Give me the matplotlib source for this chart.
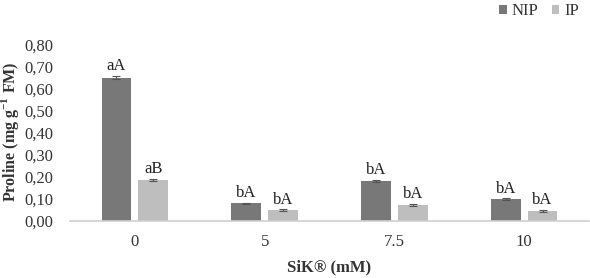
import matplotlib
matplotlib.use("Agg")
import matplotlib.pyplot as plt
import numpy as np

plt.rcParams['font.family'] = ['Liberation Serif', 'DejaVu Serif']
plt.rcParams['mathtext.fontset'] = 'custom'
plt.rcParams['mathtext.rm'] = 'Liberation Serif'
plt.rcParams['mathtext.bf'] = 'Liberation Serif:bold'

categories = ["0", "5", "7.5", "10"]
nip = [0.652, 0.080, 0.182, 0.100]
ip = [0.188, 0.050, 0.074, 0.046]
nip_err = [0.006, 0.003, 0.004, 0.003]
ip_err = [0.005, 0.003, 0.004, 0.003]
nip_labels = ["aA", "bA", "bA", "bA"]
ip_labels = ["aB", "bA", "bA", "bA"]
yticks = [0.0, 0.1, 0.2, 0.3, 0.4, 0.5, 0.6, 0.7, 0.8]

fs = 12
W, H = 590, 278
fig = plt.figure(figsize=(5.9, 2.78), dpi=100)
ax = fig.add_axes([70 / W, 1 - 221 / H, 519 / W, (221 - 45) / H])

x = np.arange(len(categories))
w = 0.23
off = 0.142
c_nip = "#787878"
c_ip = "#bebebe"
ax.bar(x - off, nip, w, color=c_nip, label="NIP", zorder=2)
ax.bar(x + off, ip, w, color=c_ip, label="IP", zorder=2)
ax.errorbar(x - off, nip, yerr=nip_err, fmt='none', ecolor="#555555", capsize=3, elinewidth=0.8, capthick=0.8, zorder=3)
ax.errorbar(x + off, ip, yerr=ip_err, fmt='none', ecolor="#555555", capsize=3, elinewidth=0.8, capthick=0.8, zorder=3)

for xi, v, e, lab in zip(x - off, nip, nip_err, nip_labels):
    ax.text(xi, v + e + 0.008, lab, ha='center', va='bottom', fontsize=fs, color="#222222")
for xi, v, e, lab in zip(x + off, ip, ip_err, ip_labels):
    ax.text(xi, v + e + 0.008, lab, ha='center', va='bottom', fontsize=fs, color="#222222")

ax.set_xlim(-0.5, 3.5)
ax.set_ylim(0, 0.8)
ax.set_yticks(yticks)
ax.set_yticklabels([f"{t:.2f}".replace('.', ',') for t in yticks], fontsize=fs, color="#333333")
ax.set_xticks(x)
ax.set_xticklabels(categories, fontsize=fs, color="#333333")
ax.tick_params(axis='y', length=0, pad=12)
ax.tick_params(axis='x', length=0, pad=9)
for s in ['top', 'right', 'left']:
    ax.spines[s].set_visible(False)
ax.spines['bottom'].set_color("#d0d0d0")
ax.spines['bottom'].set_linewidth(1.2)

fig.text(329.5 / W, 1 - 267 / H, "SiK® (mM)", fontsize=fs, fontweight='bold',
         color="#333333", ha='center', va='center')
fig.text(10 / W, 1 - 132 / H, "Proline (mg g$^{\\mathbf{-1}}$ FM)", fontsize=11.5, fontweight='bold',
         color="#333333", ha='center', va='center', rotation=90)

leg = fig.legend(loc='center right', bbox_to_anchor=(579 / W, 1 - 11 / H), ncol=2, frameon=False,
                 fontsize=fs, handlelength=0.45, handleheight=0.45, handletextpad=0.3,
                 columnspacing=0.8, borderpad=0, borderaxespad=0)
for t in leg.get_texts():
    t.set_color("#333333")

fig.savefig("out.png", dpi=100)
